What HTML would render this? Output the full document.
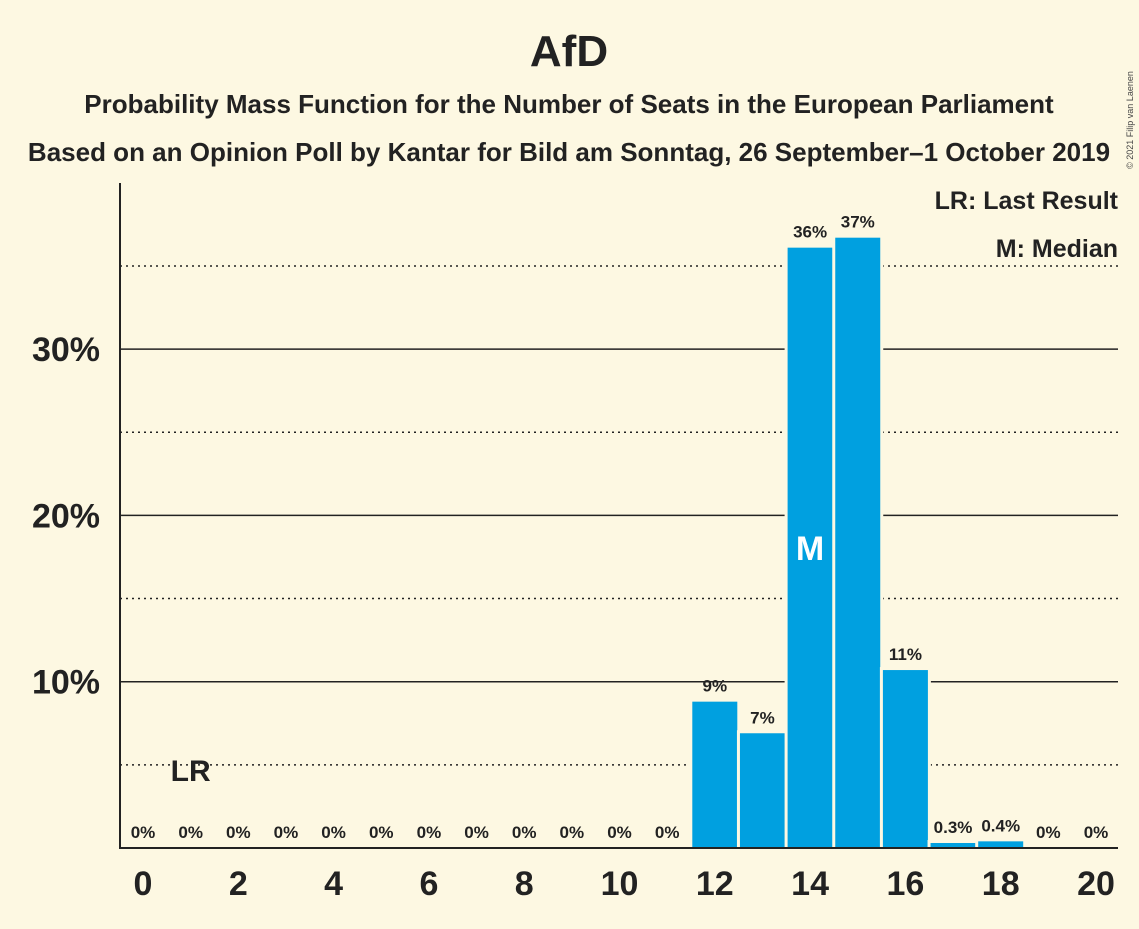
<!DOCTYPE html>
<html><head><meta charset="utf-8"><style>
body{margin:0;background:#fdf8e2;font-family:"Liberation Sans",sans-serif;}
</style></head><body>
<svg width="1139" height="924" xmlns="http://www.w3.org/2000/svg" id="svg">
<rect width="1139" height="924" fill="#fdf8e2"/>
<text x="569" y="66" font-size="44" font-weight="bold" text-anchor="middle" fill="#222">AfD</text>
<text x="569" y="113" font-size="26" font-weight="bold" text-anchor="middle" fill="#222">Probability Mass Function for the Number of Seats in the European Parliament</text>
<text x="569" y="161" font-size="26" font-weight="bold" text-anchor="middle" fill="#222">Based on an Opinion Poll by Kantar for Bild am Sonntag, 26 September–1 October 2019</text>
<text x="1133" y="120" font-size="9" fill="#444" transform="rotate(-90 1133 120)" text-anchor="middle">© 2021 Filip van Laenen</text>
<g id="grid"></g>
<g id="bars"></g>
<line x1="120" y1="183" x2="120" y2="849" stroke="#222" stroke-width="2"/>
<line x1="119" y1="848" x2="1118" y2="848" stroke="#222" stroke-width="2"/>
<g id="ticks"></g>
<text x="1118" y="209" font-size="25" font-weight="bold" text-anchor="end" fill="#222">LR: Last Result</text>
<text x="1118" y="257" font-size="25" font-weight="bold" text-anchor="end" fill="#222">M: Median</text>
</svg>
<script>
const seats=[0,1,2,3,4,5,6,7,8,9,10,11,12,13,14,15,16,17,18,19,20];
const probs=[0,0,0,0,0,0,0,0,0,0,0,0,8.8,6.9,36.1,36.7,10.7,0.3,0.4,0,0];
const labels=["0%","0%","0%","0%","0%","0%","0%","0%","0%","0%","0%","0%","9%","7%","36%","37%","11%","0.3%","0.4%","0%","0%"];
const yTicks=[10,20,30];
const yDotted=[5,15,25,35];
const xTicks=[0,2,4,6,8,10,12,14,16,18,20];
const medianSeat=14, lastResultSeat=1;
const NS="http://www.w3.org/2000/svg";
const X=s=>143+s*47.65, Y=v=>848-v*16.63, BW=45;
function mk(t,a,p){const e=document.createElementNS(NS,t);for(const k in a)e.setAttribute(k,a[k]);p.appendChild(e);return e;}
const g=document.getElementById('grid'),b=document.getElementById('bars'),tk=document.getElementById('ticks');
yDotted.forEach(v=>{const l=mk('line',{x1:120,x2:1118,y1:Y(v),y2:Y(v),stroke:'#222','stroke-width':1.5,'stroke-dasharray':'2,4'},g);

});
yTicks.forEach(v=>{const l=mk('line',{x1:120,x2:1118,y1:Y(v),y2:Y(v),stroke:'#222','stroke-width':1.5},g);


const t=mk('text',{x:100,y:Y(v)+12,'font-size':34,'font-weight':'bold','text-anchor':'end',fill:'#222'},tk);t.textContent=v+'%';

});
seats.forEach((s,i)=>{const v=probs[i];
if(v>0){const bg=mk('rect',{x:X(s)-BW/2-3,y:Y(v)-3,width:BW+6,height:848-Y(v)+3,fill:'#fdf8e2'},b);


const r=mk('rect',{x:X(s)-BW/2,y:Y(v),width:BW,height:848-Y(v),fill:'#00a0e0'},b);

}
const t=mk('text',{x:X(s),y:Y(v)-10,'font-size':17,'font-weight':'bold','text-anchor':'middle',fill:'#222'},b);t.textContent=labels[i];


if(s===medianSeat){const m=mk('text',{x:X(s),y:Y(v/2)+12,'font-size':34,'font-weight':'bold','text-anchor':'middle',fill:'#fff'},b);m.textContent='M';

}
if(s===lastResultSeat){const m=mk('text',{x:X(s),y:781,'font-size':30,'font-weight':'bold','text-anchor':'middle',fill:'#222'},b);m.textContent='LR';

}
});
xTicks.forEach(s=>{const t=mk('text',{x:X(s),y:895,'font-size':34,'font-weight':'bold','text-anchor':'middle',fill:'#222'},tk);t.textContent=s;

});
</script>
</body></html>
